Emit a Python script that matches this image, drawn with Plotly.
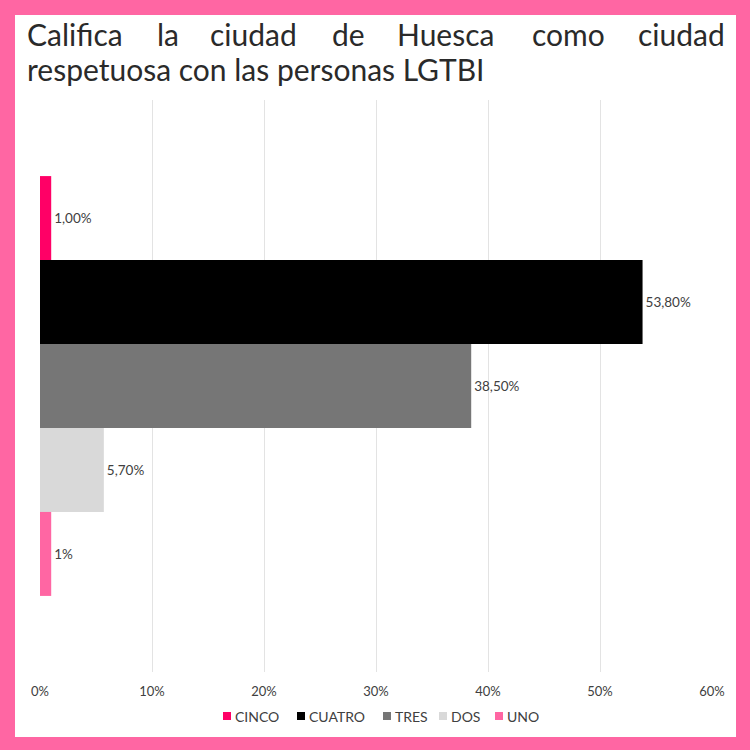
import plotly.graph_objects as go

series = ["CINCO", "CUATRO", "TRES", "DOS", "UNO"]
values = [1.0, 53.8, 38.5, 5.7, 1.0]
value_labels = ["1,00%", "53,80%", "38,50%", "5,70%", "1%"]
colors = ["#FF0066", "#000000", "#767676", "#D9D9D9", "#FF66A3"]
tick_vals = [0, 10, 20, 30, 40, 50, 60]
tick_text = ["0%", "10%", "20%", "30%", "40%", "50%", "60%"]
title_line1 = ["Califica", "la", "ciudad", "de", "Huesca", "como", "ciudad"]
title_line2 = "respetuosa con las personas LGTBI"

W, H = 750, 750
L, R, T, B = 40, 38, 100, 78
PW, PH = W - L - R, H - T - B

def px2x(px):
    return (px - L) / PW

def px2y(py):
    return (H - B - py) / PH

FONT = "Lato"
TXT = "#404040"

fig = go.Figure()
for name, v, lab, c in zip(series, values, value_labels, colors):
    fig.add_trace(go.Bar(
        name=name, y=["x"], x=[v], orientation="h",
        marker=dict(color=c, line=dict(width=0)),
        text=[lab], textposition="outside",
        textfont=dict(family=FONT, size=13.5, color=TXT),
        cliponaxis=False, hoverinfo="skip", showlegend=False,
    ))

annotations = []
# title words, justified first line
word_left = [25, 155, 208, 330, 395, 530, 636]
for w, xl in zip(title_line1, word_left):
    annotations.append(dict(text=w, xref="paper", yref="paper", x=px2x(xl), y=px2y(34),
                            xanchor="left", yanchor="middle", showarrow=False,
                            font=dict(family=FONT, size=30, color="#2a2a2a")))
annotations.append(dict(text=title_line2, xref="paper", yref="paper", x=px2x(25), y=px2y(69),
                        xanchor="left", yanchor="middle", showarrow=False,
                        font=dict(family=FONT, size=30, color="#2a2a2a")))

shapes = [dict(type="rect", xref="paper", yref="paper", x0=px2x(15), x1=px2x(736),
               y0=px2y(737), y1=px2y(15), fillcolor="white", line=dict(width=0), layer="below")]

# legend (swatch + label)
legend_sq = [223, 297, 383, 439, 495]
LEG_Y = 716
for name, c, xs in zip(series, colors, legend_sq):
    shapes.append(dict(type="rect", xref="paper", yref="paper", x0=px2x(xs), x1=px2x(xs + 8),
                       y0=px2y(LEG_Y + 4), y1=px2y(LEG_Y - 4), fillcolor=c, line=dict(width=0)))
    annotations.append(dict(text=name, xref="paper", yref="paper", x=px2x(xs + 10), y=px2y(LEG_Y),
                            xanchor="left", yanchor="middle", showarrow=False,
                            font=dict(family=FONT, size=14, color=TXT)))

fig.update_layout(
    width=W, height=H,
    margin=dict(l=L, r=R, t=T, b=B),
    paper_bgcolor="#FF66A3",
    plot_bgcolor="rgba(0,0,0,0)",
    barmode="group", bargap=0.266, bargroupgap=0,
    showlegend=False,
    xaxis=dict(range=[0, 60], tickvals=tick_vals, ticktext=tick_text, showgrid=True,
               gridcolor="#E3E3E3", gridwidth=1, zeroline=False, showline=False,
               tickfont=dict(family=FONT, size=13, color=TXT), ticks="", ticklen=0,
               ticklabelstandoff=10),
    yaxis=dict(range=[0.5, -0.5], showticklabels=False, showgrid=False, zeroline=False,
               showline=False, type="category"),
    shapes=shapes,
    annotations=annotations,
)

fig.write_html("out.html", config={"displayModeBar": False},
               post_script="document.body.style.margin='0px';document.body.style.padding='0px';")
